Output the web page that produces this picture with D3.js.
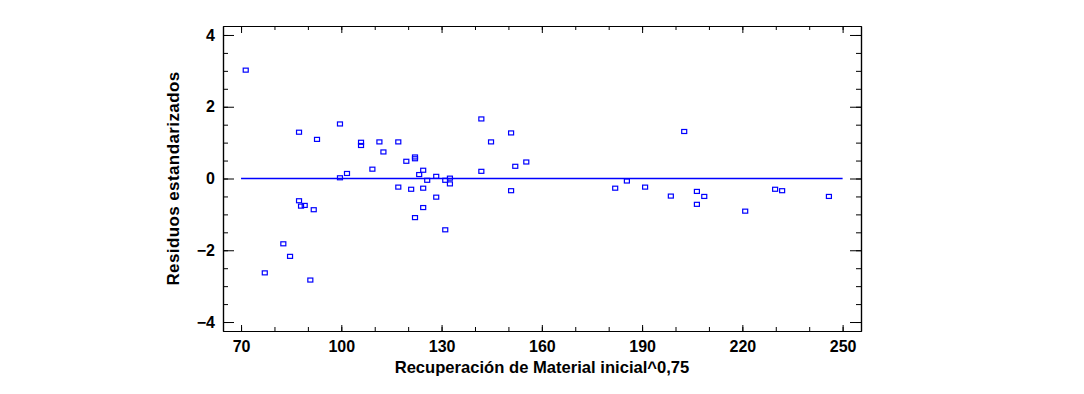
<!DOCTYPE html>
<html>
<head>
<meta charset="utf-8">
<script src="https://cdn.jsdelivr.net/npm/d3@7"></script>
<style>
  body { margin: 0; background: #fff; }
  .axis text { font-family: "Liberation Sans", Arial, sans-serif; font-weight: bold; font-size: 16px; fill: #000; }
  .axis path, .axis line { stroke: #000; }
  .title { font-family: "Liberation Sans", Arial, sans-serif; font-weight: bold; fill: #000; }
</style>
</head>
<body>
<svg id="chart"></svg>
<script>
  // Recovered values (x) and standardized residuals (y)
  const recuperacion = [71.4, 77.1, 82.65, 84.66, 87.35, 87.35, 87.95, 89.05, 90.73, 91.75,
    92.73, 99.6, 99.6, 101.7, 105.9, 105.9, 109.3, 111.4, 112.6, 117.05,
    117.05, 119.45, 120.9, 122.05, 122.05, 122.05, 123.3, 124.5, 124.5, 124.5,
    125.7, 128.4, 128.4, 131.1, 131.1, 132.5, 132.5, 141.9, 141.9, 144.8,
    150.8, 150.8, 152.05, 155.35, 181.95, 185.45, 190.9, 198.6, 202.6, 206.4,
    206.4, 208.6, 220.85, 229.8, 231.9, 245.9];
  const residuos = [3.02, -2.63, -1.82, -2.17, 1.29, -0.62, -0.77, -0.75, -2.83, -0.87,
    1.09, 1.52, 0.02, 0.14, 1.01, 0.92, 0.26, 1.02, 0.74, 1.02,
    -0.24, 0.48, -0.30, 0.60, 0.55, -1.09, 0.11, 0.23, -0.27, -0.81,
    -0.05, 0.06, -0.52, -0.05, -1.43, 0.01, -0.15, 1.66, 0.20, 1.02,
    1.27, -0.34, 0.34, 0.46, -0.27, -0.07, -0.24, -0.49, 1.31, -0.36,
    -0.72, -0.50, -0.91, -0.30, -0.34, -0.50];
  const xTicks = [70, 100, 130, 160, 190, 220, 250];
  const yTicks = [-4, -2, 0, 2, 4];

  const width = 1084, height = 394;
  const margin = { top: 26, right: 223, bottom: 63, left: 223 };
  const innerW = width - margin.left - margin.right;
  const innerH = height - margin.top - margin.bottom;

  const svg = d3.select('#chart')
    .attr('width', width)
    .attr('height', height);

  const g = svg.append('g')
    .attr('transform', `translate(${margin.left},${margin.top})`);

  const x = d3.scaleLinear().domain([64.6, 255.5]).range([0, innerW]);
  const y = d3.scaleLinear().domain([-4.25, 4.25]).range([innerH, 0]);

  const xMinor = d3.range(70, 251, 10);
  const yMinor = d3.range(-4, 4.01, 0.5);

  // Minor ticks on all four sides (pointing inward)
  g.append('g').attr('class', 'axis').attr('transform', `translate(0,${innerH})`)
    .call(d3.axisBottom(x).tickValues(xMinor).tickSizeInner(-4).tickSizeOuter(0).tickFormat(''));
  g.append('g').attr('class', 'axis')
    .call(d3.axisTop(x).tickValues(xMinor).tickSizeInner(-4).tickSizeOuter(0).tickFormat(''));
  g.append('g').attr('class', 'axis')
    .call(d3.axisLeft(y).tickValues(yMinor).tickSizeInner(-5).tickSizeOuter(0).tickFormat(''));
  g.append('g').attr('class', 'axis').attr('transform', `translate(${innerW},0)`)
    .call(d3.axisRight(y).tickValues(yMinor).tickSizeInner(-5).tickSizeOuter(0).tickFormat(''));

  // Major ticks with labels
  g.append('g').attr('class', 'axis').attr('transform', `translate(0,${innerH})`)
    .call(d3.axisBottom(x).tickValues(xTicks).tickSizeInner(-6).tickSizeOuter(0).tickPadding(10));
  g.append('g').attr('class', 'axis')
    .call(d3.axisTop(x).tickValues(xTicks).tickSizeInner(-7).tickSizeOuter(0).tickFormat(''));
  g.append('g').attr('class', 'axis')
    .call(d3.axisLeft(y).tickValues(yTicks).tickSizeInner(-11).tickSizeOuter(0).tickPadding(8));
  g.append('g').attr('class', 'axis').attr('transform', `translate(${innerW},0)`)
    .call(d3.axisRight(y).tickValues(yTicks).tickSizeInner(-11).tickSizeOuter(0).tickFormat(''));

  g.selectAll('.axis .domain').attr('stroke-width', 1.2);

  // Zero reference line
  g.append('line')
    .attr('x1', x(70)).attr('x2', x(250))
    .attr('y1', y(0)).attr('y2', y(0))
    .attr('stroke', '#0000ff')
    .attr('stroke-width', 1.4);

  // Residual points as small open squares
  g.selectAll('.pt')
    .data(recuperacion)
    .join('rect')
      .attr('class', 'pt')
      .attr('x', d => x(d) - 2.5)
      .attr('y', (d, i) => y(residuos[i]) - 2)
      .attr('width', 5)
      .attr('height', 4)
      .attr('fill', 'none')
      .attr('stroke', '#0000ff')
      .attr('stroke-width', 1.2);

  // Axis titles
  svg.append('text')
    .attr('class', 'title')
    .attr('x', margin.left + innerW / 2)
    .attr('y', 373)
    .attr('text-anchor', 'middle')
    .style('font-size', '16.6px')
    .text('Recuperación de Material inicial^0,75');

  svg.append('text')
    .attr('class', 'title')
    .attr('transform', `translate(179,${margin.top + y(0)}) rotate(-90)`)
    .attr('text-anchor', 'middle')
    .style('font-size', '17px')
    .style('letter-spacing', '0.4px')
    .text('Residuos estandarizados');
</script>
</body>
</html>
